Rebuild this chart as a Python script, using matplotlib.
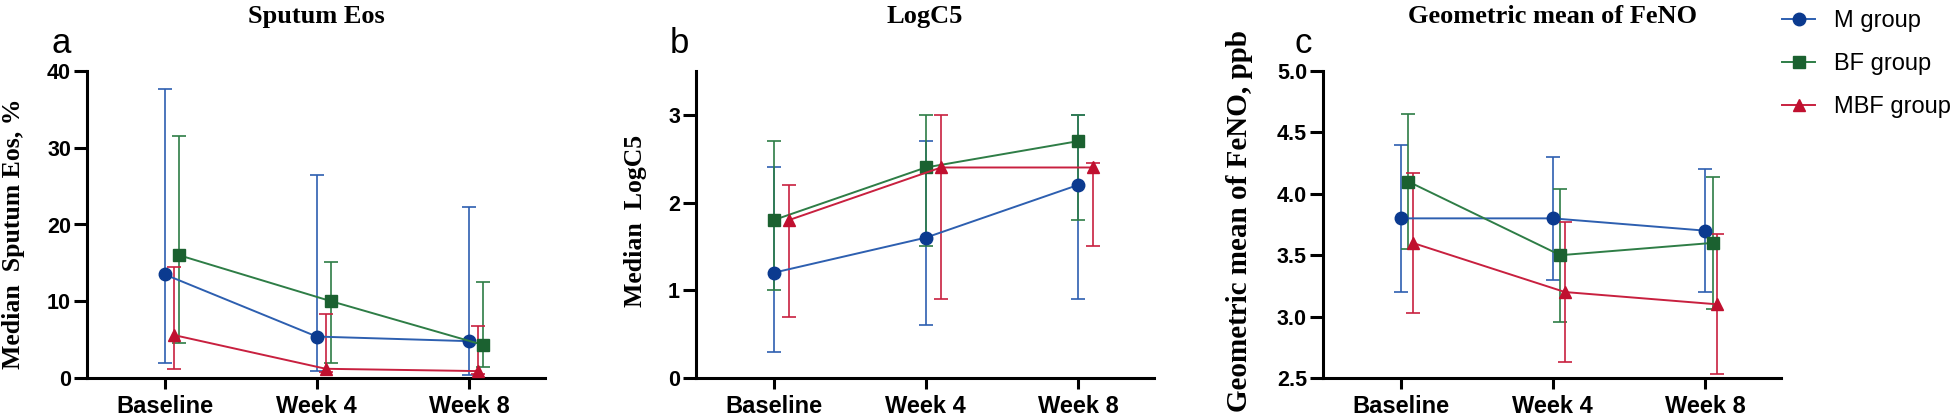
import matplotlib
matplotlib.use("Agg")
import matplotlib.pyplot as plt
import numpy as np

timepoints = ["Baseline", "Week 4", "Week 8"]
groups = ["M group", "BF group", "MBF group"]

# panel a: sputum eos (median, lower, upper)
eos_med = {"M group": [13.5, 5.4, 4.8], "BF group": [16.0, 10.0, 4.3], "MBF group": [5.6, 1.2, 0.9]}
eos_low = {"M group": [2.0, 0.9, 0.4], "BF group": [4.5, 1.9, 1.4], "MBF group": [1.2, 0.8, 0.5]}
eos_high = {"M group": [37.6, 26.5, 22.3], "BF group": [31.5, 15.1, 12.5], "MBF group": [14.5, 8.4, 6.8]}

# panel b: LogC5
logc5_med = {"M group": [1.2, 1.6, 2.2], "BF group": [1.8, 2.4, 2.7], "MBF group": [1.8, 2.4, 2.4]}
logc5_low = {"M group": [0.3, 0.6, 0.9], "BF group": [1.0, 1.5, 1.8], "MBF group": [0.7, 0.9, 1.5]}
logc5_high = {"M group": [2.4, 2.7, 3.0], "BF group": [2.7, 3.0, 3.0], "MBF group": [2.2, 3.0, 2.45]}

# panel c: geometric mean of FeNO
feno_mean = {"M group": [3.8, 3.8, 3.7], "BF group": [4.1, 3.5, 3.6], "MBF group": [3.6, 3.2, 3.1]}
feno_low = {"M group": [3.2, 3.3, 3.2], "BF group": [3.55, 2.96, 3.06], "MBF group": [3.03, 2.63, 2.53]}
feno_high = {"M group": [4.4, 4.3, 4.2], "BF group": [4.65, 4.04, 4.14], "MBF group": [4.17, 3.77, 3.67]}

line_colors = {"M group": "#2d5fb0", "BF group": "#2e7d46", "MBF group": "#c8203f"}
marker_colors = {"M group": "#0b3a8f", "BF group": "#1b6130", "MBF group": "#c0102f"}
markers = {"M group": "o", "BF group": "s", "MBF group": "^"}
msizes = {"M group": 9, "BF group": 8, "MBF group": 8.5}

sans = "Liberation Sans"
serif = "Liberation Serif"

fig = plt.figure(figsize=(19.6, 4.19), dpi=100)

panels = [
    dict(left=87, med=eos_med, low=eos_low, high=eos_high, ylim=(0, 40), yticks=[0, 10, 20, 30, 40],
         fmt="{:.0f}", title="Sputum Eos", ylabel="Median  Sputum Eos, %", letter="a",
         ylx=-0.135, yly=0.47, ylfs=18.5, letx=-0.057,
         offs={"M group": 0.0, "BF group": 0.095, "MBF group": 0.06}),
    dict(left=696, med=logc5_med, low=logc5_low, high=logc5_high, ylim=(0, 3.5), yticks=[0, 1, 2, 3],
         fmt="{:.0f}", title="LogC5", ylabel="Median  LogC5", letter="b",
         ylx=-0.107, yly=0.51, ylfs=18.5, letx=-0.037,
         offs={"M group": 0.0, "BF group": 0.0, "MBF group": 0.1}),
    dict(left=1323, med=feno_mean, low=feno_low, high=feno_high, ylim=(2.5, 5.0),
         yticks=[2.5, 3.0, 3.5, 4.0, 4.5, 5.0], fmt="{:.1f}", title="Geometric mean of FeNO",
         ylabel="Geometric mean of FeNO, ppb", letter="c", ylx=-0.153, yly=0.51, ylfs=21, letx=-0.043,
         offs={"M group": 0.0, "BF group": 0.05, "MBF group": 0.08}),
]

W, H = 1960, 419
handles = []
for p in panels:
    ax = fig.add_axes([p["left"] / W, 41 / H, 458 / W, 307 / H])
    x = np.arange(len(timepoints))
    for g in groups:
        xs = x + p["offs"][g]
        med = np.array(p["med"][g])
        lo = med - np.array(p["low"][g])
        hi = np.array(p["high"][g]) - med
        ax.errorbar(xs, med, yerr=[lo, hi], fmt="none", ecolor=line_colors[g],
                    elinewidth=1.2, capsize=5, capthick=1.2, zorder=2)
        h, = ax.plot(xs, med, color=line_colors[g], lw=1.4, marker=markers[g],
                     ms=msizes[g], mfc=marker_colors[g], mec=marker_colors[g], label=g, zorder=3)
        if p["letter"] == "a":
            handles.append(h)
    ax.set_xlim(-0.51, 2.5)
    ax.set_ylim(*p["ylim"])
    ax.set_xticks(x)
    ax.set_xticklabels(timepoints, fontsize=17, fontweight="bold", family=sans)
    ax.set_yticks(p["yticks"])
    ax.set_yticklabels([p["fmt"].format(v) for v in p["yticks"]], fontsize=15.5,
                       fontweight="bold", family=sans)
    for s in ["top", "right"]:
        ax.spines[s].set_visible(False)
    for s in ["left", "bottom"]:
        ax.spines[s].set_linewidth(2.2)
    ax.tick_params(axis="x", width=2.2, length=8, pad=4)
    ax.tick_params(axis="y", width=2.2, length=9.5, pad=2)
    ax.set_ylabel(p["ylabel"], fontsize=p["ylfs"], fontweight="bold", family=serif)
    ax.yaxis.set_label_coords(p["ylx"], p["yly"])
    ax.text(0.5, 1.178, p["title"], transform=ax.transAxes, ha="center", va="center",
            fontsize=19, fontweight="bold", family=serif)
    ax.text(p["letx"], 1.09, p["letter"], transform=ax.transAxes, ha="center", va="center",
            fontsize=25, family=sans)

fig.legend(handles=handles, loc="upper left", bbox_to_anchor=(1782 / W, 1 - 10 / H), frameon=False,
           borderaxespad=0, borderpad=0, handlelength=1.4, handletextpad=0.8, labelspacing=0.9,
           prop={"family": sans, "size": 17})

fig.savefig("out.png", dpi=100)
